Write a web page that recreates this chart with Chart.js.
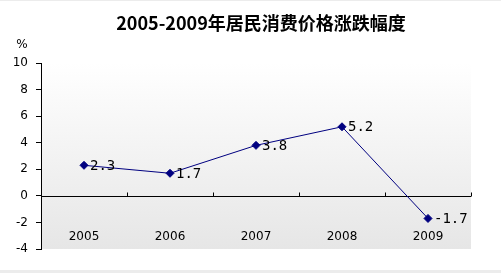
<!DOCTYPE html>
<html>
<head>
<meta charset="utf-8">
<script src="https://cdn.jsdelivr.net/npm/chart.js@4.4.1/dist/chart.umd.min.js"></script>
<style>
    html, body { margin: 0; padding: 0; background: #fff; }
    #wrap { width: 501px; height: 273px; }
</style>
</head>
<body>
<div id="wrap"><canvas id="cpiChart" width="501" height="273"></canvas></div>
<script>
// Data
const years = ['2005', '2006', '2007', '2008', '2009'];
const cpiChange = [2.3, 1.7, 3.8, 5.2, -1.7];
const yTicks = [10, 8, 6, 4, 2, 0, -2, -4];

const chartTitle = '2005-2009年居民消费价格涨跌幅度';
const unitLabel = '%';

// Gradient background, page strips, title
const backgroundPlugin = {
    id: 'background',
    beforeDraw(chart) {
        const { ctx, chartArea: a } = chart;
        ctx.save();
        ctx.fillStyle = '#ececec';
        ctx.fillRect(0, 0, chart.width, 1);
        ctx.fillRect(0, chart.height - 3, chart.width, 3);
        const g = ctx.createLinearGradient(0, a.top, 0, a.bottom);
        g.addColorStop(0, '#ffffff');
        g.addColorStop(1, '#e6e6e6');
        ctx.fillStyle = g;
        ctx.fillRect(a.left, a.top, a.right - a.left, a.bottom - a.top);

        ctx.fillStyle = '#000';
        ctx.font = 'bold 18px "Noto Sans CJK SC"';
        ctx.textAlign = 'center';
        ctx.textBaseline = 'middle';
        ctx.fillText(chartTitle, 261, 23);
        ctx.restore();
    }
};

// Zero line with category tick marks, unit label, category labels
const zeroAxisPlugin = {
    id: 'zeroAxis',
    beforeDatasetsDraw(chart) {
        const { ctx, chartArea: a, scales } = chart;
        const y0 = Math.round(scales.y.getPixelForValue(0)) + 0.5;
        ctx.save();
        ctx.strokeStyle = '#000';
        ctx.lineWidth = 1;
        ctx.beginPath();
        ctx.moveTo(a.left, y0);
        ctx.lineTo(a.right, y0);
        const step = (a.right - a.left) / years.length;
        for (let i = 1; i <= years.length; i++) {
            const x = Math.round(a.left + step * i) + 0.5;
            ctx.moveTo(x, y0);
            ctx.lineTo(x, y0 - 4);
        }
        ctx.stroke();
        ctx.fillStyle = '#000';
        ctx.font = '12px "DejaVu Sans"';
        ctx.textAlign = 'center';
        ctx.textBaseline = 'middle';
        ctx.fillText(unitLabel, 22, 45);
        years.forEach((yr, i) => {
            ctx.fillText(yr, scales.x.getPixelForValue(i), a.bottom - 12);
        });
        ctx.restore();
    }
};

// Value labels to the right of each point
const valueLabelPlugin = {
    id: 'valueLabels',
    afterDatasetsDraw(chart) {
        const { ctx } = chart;
        const meta = chart.getDatasetMeta(0);
        ctx.save();
        ctx.fillStyle = '#000';
        ctx.font = '14px "DejaVu Sans Mono"';
        ctx.textAlign = 'left';
        ctx.textBaseline = 'middle';
        meta.data.forEach((pt, i) => {
            ctx.fillText(String(cpiChange[i]), pt.x + 6, pt.y + 1);
        });
        ctx.restore();
    }
};

new Chart(document.getElementById('cpiChart'), {
    type: 'line',
    data: {
        labels: years,
        datasets: [{
            data: cpiChange,
            borderColor: '#000080',
            borderWidth: 1,
            backgroundColor: '#000080',
            pointStyle: 'rectRot',
            pointRadius: 4,
            pointBorderWidth: 1,
            tension: 0
        }]
    },
    options: {
        responsive: false,
        animation: false,
        layout: { padding: { left: 0, right: 30, top: 63, bottom: 0 } },
        plugins: {
            legend: { display: false },
            tooltip: { enabled: false },
            title: { display: false }
        },
        scales: {
            x: {
                offset: true,
                grid: { display: false, drawTicks: false },
                border: { display: false },
                ticks: { display: false },
                afterFit(scale) { scale.height = 24; }
            },
            y: {
                min: -4,
                max: 10,
                afterBuildTicks(scale) {
                    scale.ticks = yTicks.map(v => ({ value: v }));
                },
                grid: { drawOnChartArea: false, drawTicks: true, tickLength: 5, color: '#000' },
                border: { display: true, color: '#000', width: 1 },
                ticks: {
                    color: '#000',
                    padding: 8,
                    font: { family: '"DejaVu Sans"', size: 12 }
                },
                afterFit(scale) { scale.width = 41; }
            }
        }
    },
    plugins: [backgroundPlugin, zeroAxisPlugin, valueLabelPlugin]
});
</script>
</body>
</html>
